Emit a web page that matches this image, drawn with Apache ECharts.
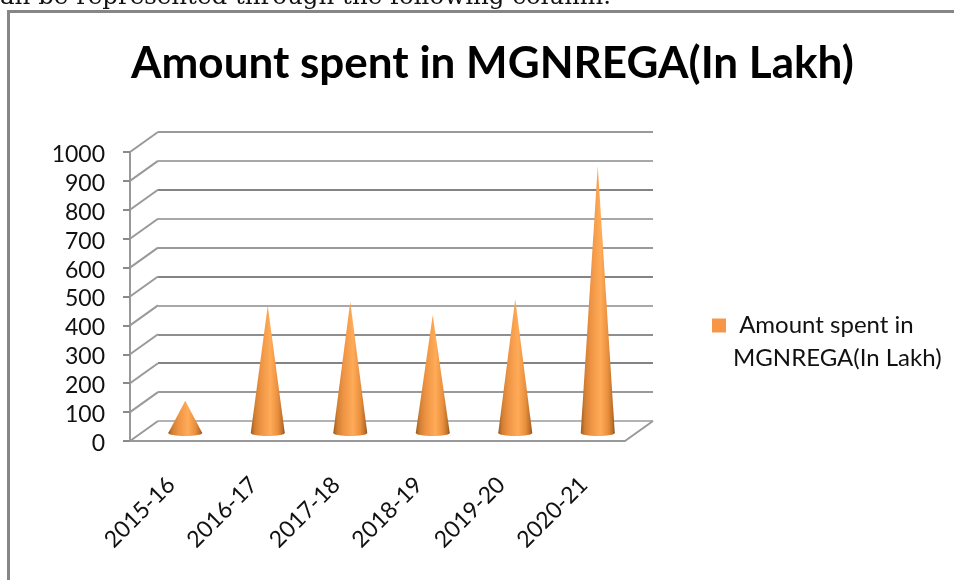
<!DOCTYPE html>
<html>
<head>
<meta charset="utf-8">
<style>
  html, body { margin: 0; padding: 0; background: #fff; overflow: hidden; }
  #chart { width: 954px; height: 580px; }
</style>
<script src="https://cdn.jsdelivr.net/npm/echarts@6/dist/echarts.min.js"></script>
</head>
<body>
<div id="chart"></div>
<script>
const seriesName = "Amount spent in MGNREGA(In Lakh)";
const categories = ["2015-16", "2016-17", "2017-18", "2018-19", "2019-20", "2020-21"];
const amounts = [112, 440, 454, 408, 464, 925];
const yTicks = [0, 100, 200, 300, 400, 500, 600, 700, 800, 900, 1000];
const gridColors = ["#b4b4b4", "#9a9a9a", "#848484", "#8e8e8e", "#a8a8a8", "#848484", "#9a9a9a", "#a8a8a8", "#848484", "#a8a8a8", "#9a9a9a"];

const depthX = 28;
const depthY = 20;
const coneWidth = 34;
const lineGray = "#999999";
const labelFont = "Lato";

const chart = echarts.init(document.getElementById("chart"));

const coneFill = {
  type: "linear", x: 0, y: 0, x2: 1, y2: 0,
  colorStops: [
    { offset: 0, color: "#9c5a1e" },
    { offset: 0.12, color: "#d27f33" },
    { offset: 0.3, color: "#ee9444" },
    { offset: 0.58, color: "#ffab58" },
    { offset: 0.8, color: "#e98f3e" },
    { offset: 0.93, color: "#bf7029" },
    { offset: 1, color: "#8f5019" },
  ],
};

const renderCone = (params, api) => {
  const tip = api.coord([api.value(0), api.value(1)]);
  const base = api.coord([api.value(0), 0]);
  const cx = tip[0] + depthX / 2;
  const by = base[1] - 8;
  const half = coneWidth / 2;
  return {
    type: "group",
    children: [
      {
        type: "ellipse",
        shape: { cx: cx, cy: by, rx: half, ry: 3 },
        style: { fill: coneFill },
      },
      {
        type: "polygon",
        shape: { points: [[cx, tip[1] - 8], [cx - half, by], [cx + half, by]] },
        style: { fill: coneFill },
      },
    ],
  };
};

const wallLine = (x, y, color) => ({
  type: "line",
  shape: { x1: x, y1: y, x2: x + depthX, y2: y - depthY },
  style: { stroke: color, lineWidth: 2 },
});

const renderWall = (params, api) => {
  const y = api.coord([0, api.value(1)])[1];
  const sys = params.coordSys;
  const children = [wallLine(sys.x, y, lineGray)];
  if (api.value(1) === 0) {
    children.push(wallLine(sys.x + sys.width, y, lineGray));
  }
  return { type: "group", children: children };
};

const option = {
  animation: false,
  backgroundColor: "#fff",
  title: {
    text: seriesName,
    left: 126,
    top: 37,
    textStyle: { fontFamily: labelFont, fontWeight: "bold", fontSize: 44, color: "#000" },
  },
  legend: {
    data: [seriesName],
    left: 712,
    top: 276,
    padding: 0,
    icon: "rect",
    itemWidth: 14,
    itemHeight: 14,
    itemGap: 0,
    formatter: () => "\n Amount spent in\nMGNREGA(In Lakh)",
    textStyle: { fontFamily: labelFont, fontSize: 24, lineHeight: 33, color: "#111", padding: [0, 0, 0, 2] },
  },
  grid: [
    { left: 130, top: 152, width: 495, height: 289 },
    { left: 158, top: 132, width: 495, height: 289 },
  ],
  xAxis: [
    {
      type: "category",
      gridIndex: 0,
      data: categories,
      axisLine: { lineStyle: { color: lineGray, width: 2 } },
      axisTick: { length: 8, lineStyle: { color: lineGray, width: 2 } },
      axisLabel: { rotate: 45, margin: 40, interval: 0, fontFamily: labelFont, fontSize: 23, color: "#111" },
    },
    {
      type: "category",
      gridIndex: 1,
      data: categories,
      axisLine: { show: false },
      axisTick: { show: false },
      axisLabel: { show: false },
    },
  ],
  yAxis: [
    {
      type: "value",
      gridIndex: 0,
      min: 0,
      max: 1000,
      interval: 100,
      splitLine: { show: false },
      axisLine: { show: true, lineStyle: { color: lineGray, width: 2 } },
      axisTick: { show: true, length: 7, lineStyle: { color: "#8a8a8a", width: 2 } },
      axisLabel: {
        margin: 25,
        formatter: (v) => "{n|" + v + "}",
        rich: { n: { fontFamily: labelFont, fontSize: 23, color: "#111", padding: [5, 0, 0, 0] } },
      },
    },
    {
      type: "value",
      gridIndex: 1,
      min: 0,
      max: 1000,
      interval: 100,
      axisLine: { show: false },
      axisTick: { show: false },
      axisLabel: { show: false },
      splitLine: { show: true, lineStyle: { color: gridColors, width: 2 } },
    },
  ],
  series: [
    {
      name: "walls",
      type: "custom",
      xAxisIndex: 0,
      yAxisIndex: 0,
      silent: true,
      renderItem: renderWall,
      data: yTicks.map((v) => [0, v]),
      z: 1,
    },
    {
      name: seriesName,
      type: "custom",
      xAxisIndex: 0,
      yAxisIndex: 0,
      renderItem: renderCone,
      itemStyle: { color: "#f79646" },
      data: amounts.map((v, i) => [i, v]),
      z: 3,
    },
  ],
  graphic: [
    {
      type: "text",
      left: 0,
      top: -15,
      style: {
        text: "an be represented through the following column.",
        font: '24.5px "DejaVu Serif"',
        fill: "#111",
      },
    },
    {
      type: "polyline",
      shape: { points: [[954, 11.5], [8.5, 11.5], [8.5, 580]] },
      style: { stroke: "#868686", lineWidth: 3, fill: null },
    },
  ],
};

chart.setOption(option);
window.addEventListener("resize", () => chart.resize());
</script>
</body>
</html>
